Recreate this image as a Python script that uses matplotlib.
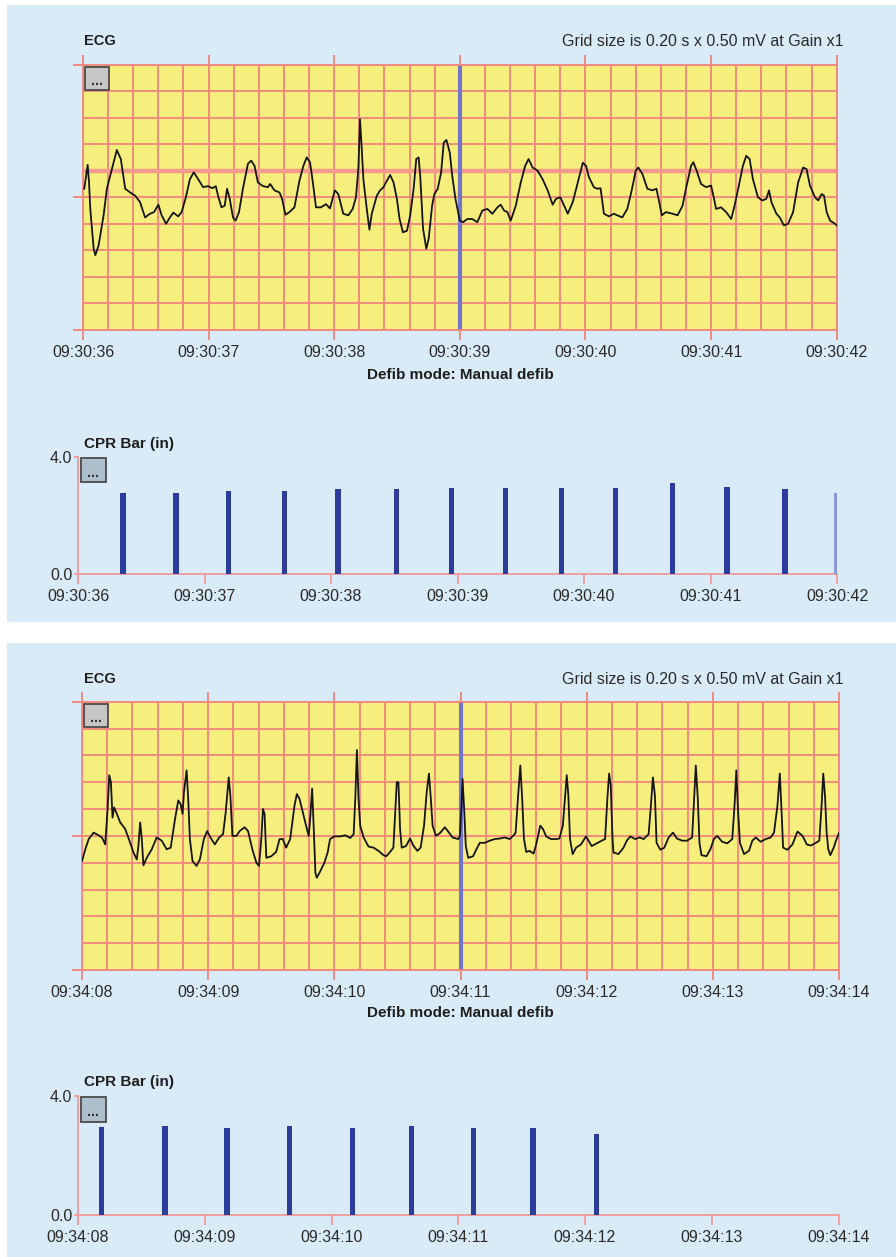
import matplotlib.pyplot as plt
from matplotlib.patches import Rectangle

plt.rcParams['font.family'] = ['Liberation Sans', 'DejaVu Sans']

# Colours
PANEL_BG = '#d8ebf7'
PAPER = '#f6ef7e'
GRID = '#f2857c'
MARKER = '#7275c9'
TRACE = '#151515'
BAR = '#2b3c9c'
TEXT = '#2a2a2a'

# Top record: 09:30:36 - 09:30:42
ecg1_labels = ['09:30:36', '09:30:37', '09:30:38', '09:30:39', '09:30:40', '09:30:41', '09:30:42']
ecg1_t = [0.01, 0.037, 0.048, 0.058, 0.085, 0.098, 0.124, 0.164, 0.190, 0.230, 0.269, 0.301, 0.336, 0.375,
          0.415, 0.454, 0.494, 0.534, 0.565, 0.600, 0.626, 0.661, 0.692, 0.719, 0.758, 0.785, 0.819, 0.851,
          0.882, 0.917, 0.956, 0.996, 1.030, 1.057, 1.075, 1.102, 1.128, 1.147, 1.168, 1.194, 1.215, 1.242,
          1.273, 1.313, 1.339, 1.366, 1.392, 1.432, 1.472, 1.490, 1.524, 1.564, 1.585, 1.612, 1.643, 1.683,
          1.723, 1.754, 1.781, 1.807, 1.828, 1.855, 1.894, 1.934, 1.966, 2.005, 2.032, 2.072, 2.112, 2.147,
          2.173, 2.192, 2.205, 2.219, 2.232, 2.259, 2.280, 2.299, 2.317, 2.339, 2.365, 2.392, 2.419, 2.445,
          2.472, 2.499, 2.520, 2.547, 2.579, 2.605, 2.632, 2.653, 2.672, 2.685, 2.707, 2.733, 2.752, 2.779,
          2.797, 2.824, 2.851, 2.872, 2.893, 2.920, 2.939, 2.965, 3.000, 3.027, 3.059, 3.099, 3.139, 3.179,
          3.219, 3.259, 3.299, 3.325, 3.352, 3.379, 3.405, 3.445, 3.485, 3.520, 3.547, 3.579, 3.619, 3.659,
          3.699, 3.739, 3.765, 3.800, 3.827, 3.859, 3.899, 3.939, 3.979, 4.005, 4.027, 4.067, 4.093, 4.120,
          4.147, 4.187, 4.227, 4.253, 4.293, 4.333, 4.368, 4.400, 4.421, 4.453, 4.493, 4.533, 4.565, 4.587,
          4.608, 4.640, 4.693, 4.733, 4.773, 4.800, 4.840, 4.859, 4.885, 4.920, 4.960, 5.000, 5.021, 5.040,
          5.080, 5.120, 5.160, 5.187, 5.221, 5.253, 5.280, 5.307, 5.333, 5.373, 5.408, 5.440, 5.461, 5.480,
          5.520, 5.547, 5.579, 5.613, 5.653, 5.693, 5.733, 5.760, 5.787, 5.827, 5.853, 5.880, 5.899, 5.920,
          5.947, 5.987, 6.000]
ecg1_mv = [0.16, 0.61, 0.28, -0.22, -0.97, -1.09, -0.91, -0.34, 0.16, 0.53, 0.89, 0.72, 0.16, 0.09,
           0.03, -0.09, -0.38, -0.31, -0.28, -0.14, -0.34, -0.50, -0.38, -0.29, -0.36, -0.28, 0.00, 0.34,
           0.47, 0.34, 0.19, 0.21, 0.17, 0.21, 0.03, -0.19, -0.16, 0.16, -0.03, -0.38, -0.44, -0.28,
           0.16, 0.63, 0.69, 0.59, 0.28, 0.21, 0.19, 0.25, 0.13, 0.09, -0.03, -0.33, -0.28, -0.19,
           0.31, 0.59, 0.75, 0.66, 0.31, -0.19, -0.19, -0.13, -0.21, 0.13, 0.06, -0.31, -0.34, -0.22,
           0.00, 0.53, 1.47, 0.91, 0.34, -0.22, -0.61, -0.31, -0.16, 0.03, 0.13, 0.19, 0.31, 0.42,
           0.28, -0.03, -0.41, -0.66, -0.63, -0.34, 0.16, 0.72, 0.75, 0.38, -0.59, -0.97, -0.78, -0.16,
           0.06, 0.16, 0.47, 1.03, 1.08, 0.84, 0.41, -0.03, -0.44, -0.47, -0.41, -0.41, -0.47, -0.25,
           -0.22, -0.31, -0.19, -0.14, -0.25, -0.28, -0.44, -0.16, 0.28, 0.59, 0.72, 0.56, 0.50, 0.34,
           0.13, -0.14, -0.03, 0.00, -0.14, -0.31, -0.09, 0.28, 0.65, 0.59, 0.38, 0.19, 0.16, 0.17,
           -0.31, -0.36, -0.31, -0.34, -0.38, -0.22, 0.13, 0.50, 0.56, 0.44, 0.16, 0.13, 0.16, -0.09,
           -0.34, -0.28, -0.31, -0.34, -0.16, 0.16, 0.59, 0.66, 0.50, 0.25, 0.19, 0.22, 0.00, -0.22,
           -0.19, -0.28, -0.41, -0.16, 0.22, 0.59, 0.78, 0.72, 0.34, 0.00, -0.06, -0.03, 0.13, -0.09,
           -0.31, -0.38, -0.53, -0.50, -0.28, 0.28, 0.56, 0.53, 0.22, 0.00, -0.06, 0.06, 0.03, -0.28,
           -0.44, -0.50, -0.53]
cpr1_t = [0.355, 0.775, 1.19, 1.63, 2.055, 2.52, 2.95, 3.38, 3.82, 4.25, 4.70, 5.13, 5.59, 6.0]
cpr1_depth = [2.75, 2.75, 2.82, 2.82, 2.89, 2.89, 2.92, 2.92, 2.92, 2.92, 3.09, 2.98, 2.89, 2.77]

# Bottom record: 09:34:08 - 09:34:14
ecg2_labels = ['09:34:08', '09:34:09', '09:34:10', '09:34:11', '09:34:12', '09:34:13', '09:34:14']
ecg2_t = [0.000, 0.026, 0.053, 0.092, 0.132, 0.158, 0.184, 0.203, 0.216, 0.229, 0.242, 0.255, 0.271, 0.303,
          0.342, 0.382, 0.408, 0.434, 0.447, 0.461, 0.474, 0.487, 0.513, 0.553, 0.592, 0.632, 0.671, 0.703,
          0.737, 0.763, 0.782, 0.797, 0.808, 0.829, 0.842, 0.855, 0.876, 0.908, 0.934, 0.966, 0.992, 1.018,
          1.053, 1.087, 1.118, 1.139, 1.153, 1.163, 1.176, 1.192, 1.224, 1.250, 1.289, 1.316, 1.350, 1.382,
          1.403, 1.421, 1.434, 1.447, 1.461, 1.500, 1.539, 1.566, 1.592, 1.618, 1.650, 1.684, 1.703, 1.724,
          1.750, 1.776, 1.797, 1.808, 1.824, 1.837, 1.850, 1.861, 1.882, 1.921, 1.947, 1.966, 2.000, 2.047,
          2.087, 2.126, 2.153, 2.166, 2.179, 2.192, 2.205, 2.232, 2.271, 2.311, 2.350, 2.389, 2.411, 2.442,
          2.468, 2.484, 2.495, 2.508, 2.521, 2.534, 2.568, 2.600, 2.626, 2.658, 2.684, 2.711, 2.732, 2.750,
          2.763, 2.779, 2.805, 2.837, 2.876, 2.903, 2.937, 2.982, 2.995, 3.008, 3.016, 3.029, 3.042, 3.061,
          3.100, 3.126, 3.153, 3.192, 3.232, 3.271, 3.311, 3.350, 3.389, 3.421, 3.437, 3.455, 3.474, 3.489,
          3.503, 3.521, 3.547, 3.579, 3.600, 3.632, 3.653, 3.679, 3.718, 3.758, 3.784, 3.811, 3.829, 3.842,
          3.855, 3.868, 3.889, 3.916, 3.955, 3.995, 4.040, 4.080, 4.119, 4.146, 4.164, 4.178, 4.191, 4.204,
          4.212, 4.252, 4.292, 4.318, 4.345, 4.385, 4.419, 4.451, 4.491, 4.509, 4.525, 4.541, 4.554, 4.584,
          4.615, 4.650, 4.684, 4.716, 4.756, 4.796, 4.836, 4.849, 4.865, 4.881, 4.894, 4.910, 4.950, 4.981,
          5.008, 5.034, 5.074, 5.114, 5.154, 5.172, 5.186, 5.199, 5.215, 5.247, 5.286, 5.313, 5.340, 5.379,
          5.419, 5.459, 5.485, 5.512, 5.531, 5.544, 5.557, 5.592, 5.631, 5.671, 5.711, 5.745, 5.777, 5.817,
          5.844, 5.862, 5.875, 5.889, 5.902, 5.915, 5.931, 5.958, 5.976, 6.000]
ecg2_mv = [-0.47, -0.25, -0.06, 0.06, 0.01, -0.03, -0.16, 0.50, 1.13, 1.00, 0.34, 0.53, 0.44, 0.25,
           0.13, -0.13, -0.31, -0.44, -0.19, 0.25, -0.06, -0.55, -0.41, -0.25, -0.03, -0.09, -0.25, -0.22,
           0.31, 0.66, 0.59, 0.41, 0.81, 1.22, 0.69, -0.06, -0.47, -0.56, -0.44, -0.06, 0.09, -0.03,
           -0.16, -0.03, 0.03, 0.44, 0.81, 1.09, 0.75, 0.00, 0.00, 0.09, 0.16, 0.09, -0.25, -0.50,
           -0.56, -0.06, 0.50, 0.41, -0.41, -0.38, -0.30, -0.06, -0.06, -0.22, -0.06, 0.56, 0.78, 0.69,
           0.44, 0.19, 0.00, 0.31, 0.88, 0.13, -0.69, -0.78, -0.69, -0.50, -0.31, -0.06, -0.01, -0.01,
           0.01, -0.04, 0.03, 0.69, 1.60, 0.69, 0.19, -0.03, -0.20, -0.22, -0.28, -0.36, -0.38, -0.30,
           -0.22, 0.50, 1.00, 1.00, 0.13, -0.22, -0.19, -0.05, -0.18, -0.28, -0.22, 0.19, 0.81, 1.16,
           0.75, 0.19, 0.00, 0.05, 0.16, 0.08, -0.03, -0.06, 0.00, 0.56, 1.06, 0.50, -0.19, -0.41,
           -0.38, -0.25, -0.13, -0.13, -0.09, -0.06, -0.05, -0.03, -0.06, 0.01, 0.06, 0.69, 1.31, 0.69,
           -0.06, -0.30, -0.28, -0.33, -0.16, 0.19, 0.13, -0.01, -0.06, -0.06, -0.05, 0.19, 0.75, 1.13,
           0.75, -0.06, -0.34, -0.22, -0.16, -0.01, -0.19, -0.14, -0.09, -0.06, 0.69, 1.16, 0.94, 0.00,
           -0.31, -0.34, -0.22, -0.09, -0.01, -0.06, -0.03, -0.06, 0.03, 0.56, 1.09, 0.75, -0.13, -0.26,
           -0.22, -0.03, 0.06, -0.05, -0.09, -0.09, -0.03, 0.56, 1.31, 0.69, -0.13, -0.36, -0.38, -0.25,
           -0.06, 0.00, -0.11, -0.14, -0.06, 0.56, 1.22, 0.50, -0.13, -0.34, -0.28, -0.09, -0.03, -0.11,
           -0.06, -0.03, 0.06, 0.56, 1.16, 0.50, -0.22, -0.26, -0.16, 0.08, 0.00, -0.16, -0.18, -0.13,
           -0.09, 0.56, 1.16, 0.75, 0.06, -0.25, -0.36, -0.22, -0.09, 0.05]
cpr2_t = [0.187, 0.687, 1.175, 1.67, 2.167, 2.63, 3.12, 3.59, 4.09]
cpr2_depth = [2.97, 2.99, 2.91, 2.99, 2.91, 2.99, 2.91, 2.91, 2.71]

W, H = 896, 1257
fig = plt.figure(figsize=(W / 100, H / 100), dpi=100)
fig.patch.set_facecolor('white')


def fbox(x0, y0, x1, y1):
    # pixel box (top-left origin) -> figure rect
    return [x0 / W, 1 - y1 / H, (x1 - x0) / W, (y1 - y0) / H]


def button(x0, y0, x1, y1, face):
    r = fbox(x0, y0, x1, y1)
    fig.add_artist(Rectangle((r[0], r[1]), r[2], r[3], transform=fig.transFigure,
                             facecolor=face, edgecolor='#4a4a4a', lw=1.3, zorder=10))
    fig.text((x0 + x1) / 2 / W, 1 - (y1 - 9) / H, '...', ha='center', va='center',
             fontsize=10, fontweight='bold', color='#333333', zorder=11)


def ecg_panel(box, t, mv, labels, band):
    ax = fig.add_axes(fbox(*box))
    ax.set_facecolor(PAPER)
    ax.set_xlim(0, 6)
    ax.set_ylim(-2.5, 2.5)
    for i in range(31):
        ax.axvline(i * 0.2, color=GRID, lw=1.3, zorder=1)
    for i in range(11):
        ax.axhline(-2.5 + i * 0.5, color=GRID, lw=1.3, zorder=1)
    if band:
        ax.axhline(0.5, color='#f39a8c', lw=3.2, zorder=1)
    ax.axvline(3, color=MARKER, lw=3, zorder=2)
    ax.plot(t, mv, color=TRACE, lw=1.3, zorder=3)
    for s in ax.spines.values():
        s.set_color(GRID)
        s.set_linewidth(1.3)
    ax.set_xticks(range(7))
    ax.set_xticklabels(labels)
    ax.set_yticks([-2.5, 0, 2.5])
    ax.set_yticklabels([])
    ax.tick_params(axis='x', top=True, direction='out', length=7, width=1.3, color=GRID,
                   labelsize=11.5, labelcolor=TEXT, pad=4)
    ax.tick_params(axis='y', direction='out', length=7, width=1.3, color=GRID)
    return ax


def cpr_panel(box, t, depth, labels, colors):
    ax = fig.add_axes(fbox(*box))
    ax.patch.set_alpha(0)
    ax.set_xlim(0, 6)
    ax.set_ylim(0, 4)
    ax.bar(t, depth, width=0.042, color=colors, zorder=3)
    for k in ['top', 'right']:
        ax.spines[k].set_visible(False)
    for k in ['left', 'bottom']:
        ax.spines[k].set_color('#f09a98')
        ax.spines[k].set_linewidth(1.3)
    ax.set_xticks(range(7))
    ax.set_xticklabels(labels)
    ax.set_yticks([0, 4])
    ax.set_yticklabels(['0.0', '4.0'])
    ax.tick_params(axis='x', direction='out', length=7, width=1.3, color='#f09a98',
                   labelsize=11.5, labelcolor=TEXT, pad=4)
    ax.tick_params(axis='y', direction='out', length=3, width=1.3, color='#f09a98',
                   labelsize=11.5, labelcolor=TEXT, pad=1)
    return ax


def record(top, ecg_box, cpr_box, t, mv, labels, cpr_t, cpr_d, band, last_light):
    # panel background
    r = fbox(7, top, 896, top + 617)
    fig.add_artist(Rectangle((r[0], r[1]), r[2], r[3], transform=fig.transFigure,
                             facecolor=PANEL_BG, edgecolor='none', zorder=0))
    ecg_panel(ecg_box, t, mv, labels, band)
    colors = [BAR] * len(cpr_t)
    if last_light:
        colors[-1] = '#8d99d6'
    cpr_panel(cpr_box, cpr_t, cpr_d, labels, colors)

    fig.text(84 / W, 1 - (top + 36) / H, 'ECG', ha='left', va='center', fontsize=10.5,
             fontweight='bold', color='#1e1e1e')
    fig.text(843 / W, 1 - (top + 36) / H, 'Grid size is 0.20 s x 0.50 mV at Gain x1', ha='right',
             va='center', fontsize=11.5, color=TEXT)
    fig.text(460 / W, 1 - (top + 370) / H, 'Defib mode: Manual defib', ha='center', va='center',
             fontsize=11, fontweight='bold', color='#1e1e1e')
    fig.text(84 / W, 1 - (top + 439) / H, 'CPR Bar (in)', ha='left', va='center', fontsize=11,
             fontweight='bold', color='#1e1e1e')
    button(ecg_box[0] + 1.5, ecg_box[1] + 2, ecg_box[0] + 25.5, ecg_box[1] + 25.5, '#c6c6c6')
    button(81, cpr_box[1] + 1, 105.5, cpr_box[1] + 25.5, '#aebfcc')


record(5, (83, 64.5, 836.7, 330), (78, 456.7, 837, 574), ecg1_t, ecg1_mv, ecg1_labels,
       cpr1_t, cpr1_depth, True, True)
record(643, (82, 701.7, 839, 970), (78, 1096, 838.5, 1215), ecg2_t, ecg2_mv, ecg2_labels,
       cpr2_t, cpr2_depth, False, False)

fig.savefig('out.png', dpi=100, facecolor='white')
